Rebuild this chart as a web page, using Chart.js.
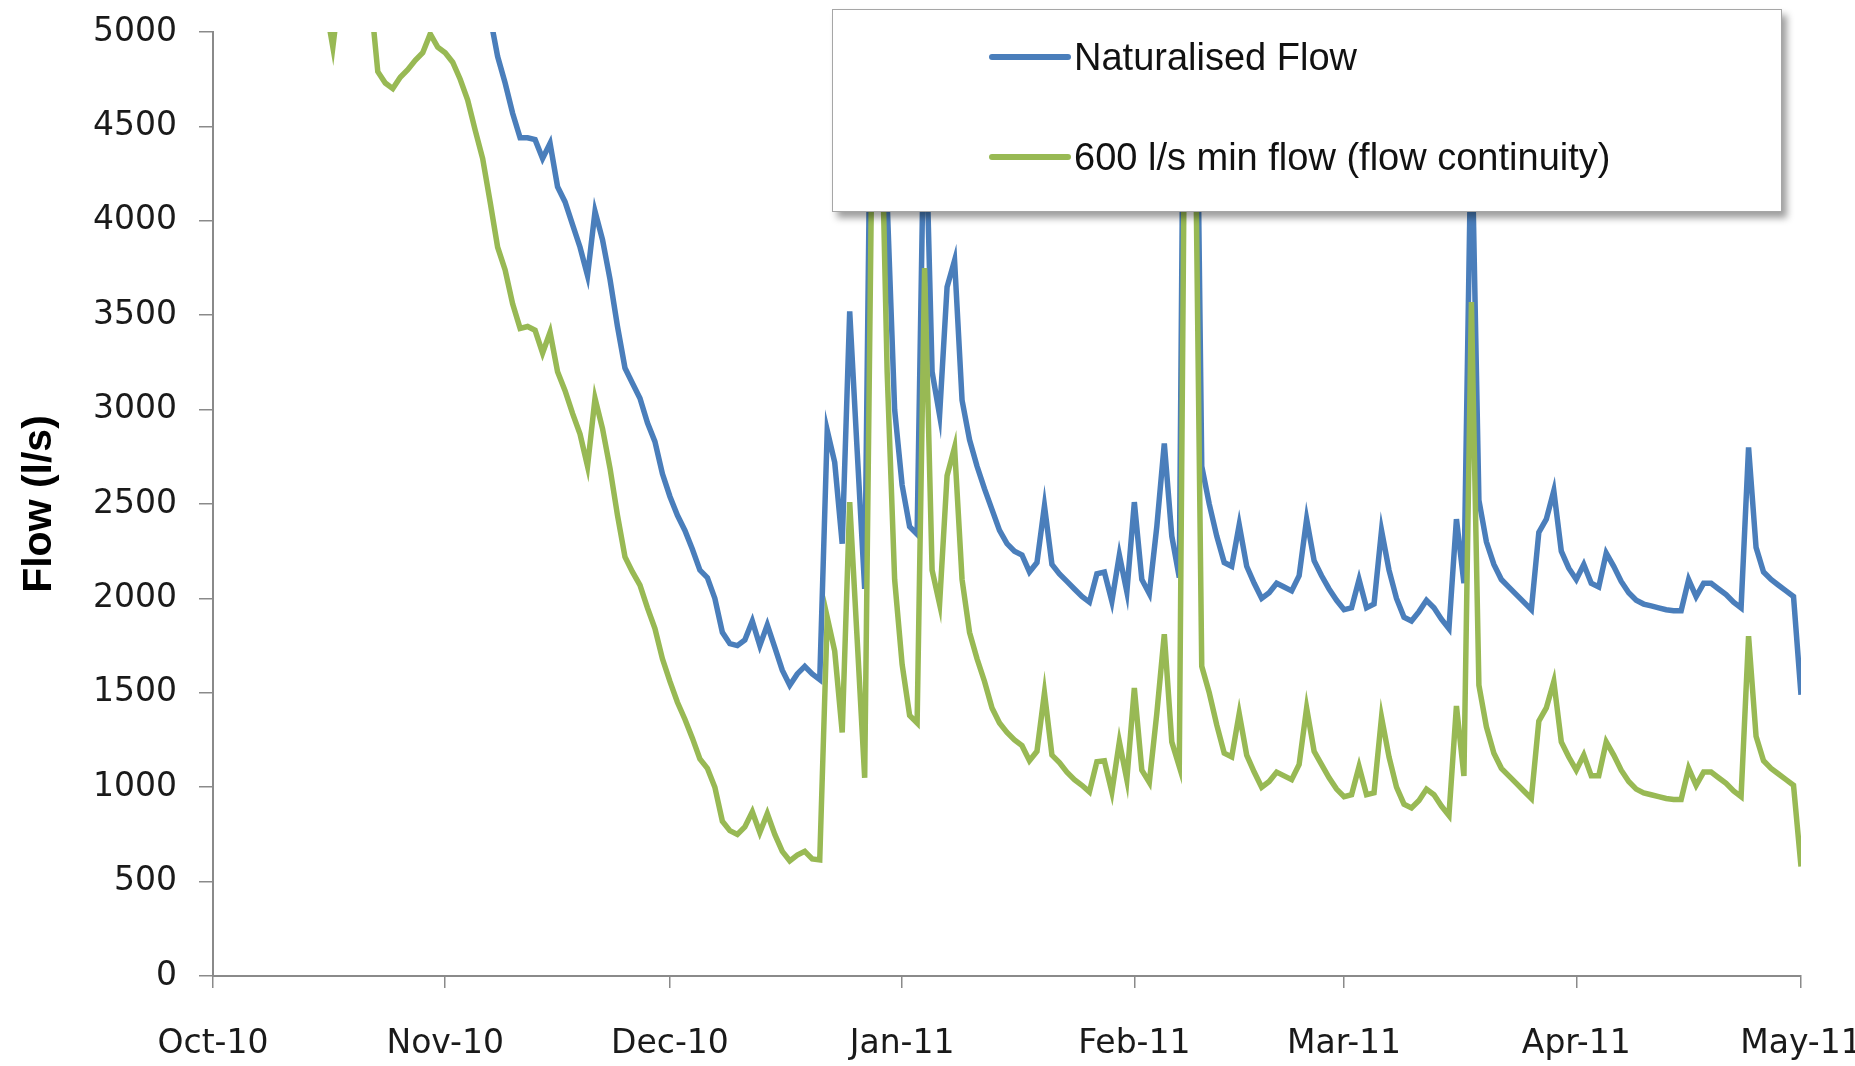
<!DOCTYPE html>
<html>
<head>
<meta charset="utf-8">
<title>Flow</title>
<script src="https://cdn.jsdelivr.net/npm/chart.js@4.4.1/dist/chart.umd.min.js"></script>
<style>
  body { margin: 0; background: #fff; }
  #wrap { position: relative; width: 1855px; height: 1066px; }
  #flowChart { position: absolute; left: 0; top: 0; }
  #legend {
    position: absolute; left: 832px; top: 9px; width: 948px; height: 201px;
    background: #fff; border: 1px solid #a6a6a6;
    box-shadow: 5px 6px 7px rgba(0, 0, 0, 0.38);
    font-family: 'Liberation Sans', Arial, sans-serif; font-size: 38px; color: #111;
  }
  .item { position: absolute; left: 156px; height: 44px; display: flex; align-items: center; white-space: nowrap; }
  .swatch { width: 82px; height: 6px; border-radius: 3px; margin-right: 3px; }
</style>
</head>
<body>
<div id="wrap">
  <canvas id="flowChart" width="1855" height="1066"></canvas>
  <div id="legend"></div>
</div>
<script>
// Daily flows from 1 Oct 2010 (day 0) to 1 May 2011 (day 212), l/s
// values above 5000 are off the top of the axis in the original
const naturalisedFlow = [
  9200, 8800, 8400, 8000, 7700, 7400, 7100, 6900, 6700, 6600, 6500, 6400, 6300, 6250, 6200, 6150,
  5920, 6250, 6800, 6600, 6400, 6200, 5790, 5730, 5700, 5760, 5800, 5850, 5890, 5990, 5920, 5890,
  5840, 5750, 5640, 5480, 5330,
  5080, 4870, 4730, 4570, 4440, 4440, 4430, 4330, 4410, 4180, 4100, 3980, 3860, 3710, 4050, 3900,
  3690, 3440, 3220, 3140, 3060, 2930, 2830,
  2660, 2540, 2440, 2360, 2260, 2150, 2110, 2000, 1820, 1760, 1750, 1780, 1880, 1750, 1860, 1740,
  1620, 1540, 1600, 1640, 1600, 1570, 2890, 2720, 2290, 3520, 2780, 2050,
  5500, 6000, 4100, 3000, 2600, 2380, 2340, 4750, 3200, 2970, 3650, 3790,
  3050, 2840, 2700, 2580, 2470, 2360, 2290, 2250, 2230, 2140, 2190, 2490, 2180, 2130, 2090, 2050,
  2010, 1980, 2130, 2140, 1985, 2230, 2035, 2510, 2100, 2025, 2380, 2820, 2330, 2110,
  7000, 6000, 2700, 2500, 2330, 2190, 2170, 2390, 2170, 2080, 2000, 2030, 2080, 2060, 2040, 2120,
  2420, 2200, 2120, 2050, 1990, 1940, 1950, 2100, 1950, 1970, 2360, 2150, 2000, 1900, 1880, 1930,
  1990, 1950, 1890, 1840,
  2420, 2080, 4570, 2520, 2300, 2180, 2100, 2060, 2020, 1980, 1940, 2350, 2420, 2570, 2250, 2160,
  2100, 2180, 2080, 2060, 2240, 2170, 2090, 2030, 1990, 1970, 1960, 1950, 1940, 1935, 1935, 2100,
  2010, 2080, 2080, 2050, 2020, 1980, 1950, 2800, 2270, 2140, 2100, 2070, 2040, 2010, 1490
];

const minFlow600 = [
  8200, 7800, 7400, 7000, 6700, 6400, 6100, 5900, 5700, 5600, 5500, 5400, 5300, 5250, 5200, 5150,
  4920, 5250, 5800, 5600, 5400, 5200,
  4790, 4730, 4700, 4760, 4800, 4850, 4890, 4990, 4920, 4890, 4840, 4750, 4640, 4480, 4330,
  4100, 3860, 3740, 3560, 3430, 3440, 3420, 3300, 3410, 3200, 3100, 2980, 2870, 2700, 3060, 2900,
  2690, 2440, 2220, 2140, 2070, 1950, 1840,
  1680, 1560, 1450, 1360, 1260, 1150, 1100, 1000, 820, 770, 750, 790, 870, 760, 860, 750,
  660, 610, 640, 660, 620, 615, 1900, 1720, 1290, 2510, 1780, 1050,
  4500, 5000, 3200, 2100, 1650, 1380, 1340, 3750, 2150, 1970, 2650, 2800,
  2100, 1820, 1680, 1560, 1420, 1340, 1290, 1250, 1220, 1140, 1190, 1500, 1170, 1130, 1080, 1040,
  1010, 975, 1135, 1140, 975, 1240, 1040, 1525, 1090, 1025, 1390, 1810, 1240, 1110,
  6000, 5000, 1640, 1500, 1330, 1180, 1160, 1390, 1170, 1080, 1000, 1030, 1080, 1060, 1040, 1120,
  1420, 1190, 1120, 1050, 990, 950, 960, 1110, 960, 970, 1370, 1160, 1000, 910, 890, 930,
  990, 960, 900, 850,
  1430, 1060, 3570, 1540, 1320, 1180, 1100, 1060, 1020, 980, 940, 1350, 1420, 1560, 1240, 1160,
  1090, 1170, 1060, 1060, 1240, 1170, 1090, 1030, 990, 970, 960, 950, 940, 935, 935, 1100,
  1010, 1080, 1080, 1050, 1020, 980, 950, 1800, 1270, 1140, 1100, 1070, 1040, 1010, 580
];

// Month ticks (day number) and their labels
const tickDays = [0, 31, 61, 92, 123, 151, 182, 212];
const tickLabels = ['Oct-10', 'Nov-10', 'Dec-10', 'Jan-11', 'Feb-11', 'Mar-11', 'Apr-11', 'May-11'];

const seriesNames = ['Naturalised Flow', '600 l/s min flow (flow continuity)'];
const seriesColors = ['#4A7EBB', '#98B954'];

const axisGray = '#8a8a8a';
Chart.defaults.font.family = "'DejaVu Sans', sans-serif";
Chart.defaults.color = '#1a1a1a';

const toPoints = arr => arr.map((v, i) => ({ x: i, y: v }));

const ctx = document.getElementById('flowChart').getContext('2d');
const flowChart = new Chart(ctx, {
  type: 'line',
  data: {
    datasets: [{
      label: seriesNames[0],
      data: toPoints(naturalisedFlow),
      borderColor: seriesColors[0],
      borderWidth: 5.5,
      pointRadius: 0,
      tension: 0,
      order: 2, // drawn under the green line
    }, {
      label: seriesNames[1],
      data: toPoints(minFlow600),
      borderColor: seriesColors[1],
      borderWidth: 5.5,
      pointRadius: 0,
      tension: 0,
      order: 1,
    }],
  },
  options: {
    responsive: false,
    animation: false,
    layout: { padding: { top: 32, right: 54, left: 0, bottom: 0 } },
    plugins: {
      legend: { display: false },
      tooltip: { enabled: false },
    },
    scales: {
      x: {
        type: 'linear',
        min: tickDays[0],
        max: tickDays[tickDays.length - 1],
        afterBuildTicks: scale => { scale.ticks = tickDays.map(d => ({ value: d })); },
        afterFit: scale => { scale.height = 90; scale.paddingLeft = 0; scale.paddingRight = 0; },
        ticks: {
          autoSkip: false,
          maxRotation: 0,
          padding: 37,
          font: { size: 33 },
          callback: (value, index) => tickLabels[index],
        },
        grid: { drawOnChartArea: false, drawTicks: true, tickLength: 12, color: axisGray, lineWidth: 1.5 },
        border: { color: axisGray, width: 2 },
      },
      y: {
        min: 0,
        max: 5000,
        afterFit: scale => { scale.width = 213; scale.paddingTop = 0; scale.paddingBottom = 0; },
        ticks: {
          stepSize: 500,
          padding: 22,
          font: { size: 33 },
          callback: value => String(value),
        },
        grid: { drawOnChartArea: false, drawTicks: true, tickLength: 14, color: axisGray, lineWidth: 1.5 },
        border: { color: axisGray, width: 2 },
        title: {
          display: true,
          text: 'Flow (l/s)',
          color: '#000',
          padding: { top: 15, bottom: 0 },
          font: { family: "'Liberation Sans', Arial, sans-serif", weight: 'bold', size: 41 },
        },
      },
    },
  },
});

// Legend box drawn as HTML on top of the plot
const legendBox = document.getElementById('legend');
seriesNames.forEach((name, i) => {
  const item = document.createElement('div');
  item.className = 'item';
  item.style.top = (25 + i * 100) + 'px';
  const swatch = document.createElement('span');
  swatch.className = 'swatch';
  swatch.style.background = seriesColors[i];
  const text = document.createElement('span');
  text.textContent = name;
  item.appendChild(swatch);
  item.appendChild(text);
  legendBox.appendChild(item);
});
</script>
</body>
</html>
